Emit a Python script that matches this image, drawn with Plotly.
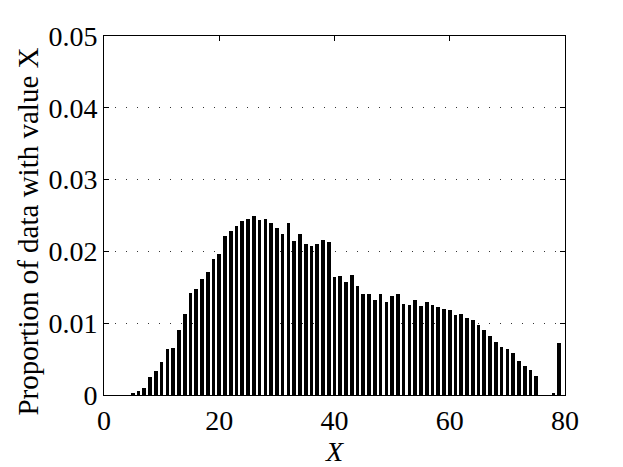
import plotly.graph_objects as go

x_values = list(range(0, 80))
proportions = [
    0, 0, 0, 0, 0,
    0.0002, 0.0005, 0.0010, 0.0025, 0.0033,
    0.0046, 0.0064, 0.0065, 0.0090, 0.0113,
    0.0142, 0.0148, 0.0161, 0.0172, 0.0190,
    0.0196, 0.0222, 0.0228, 0.0236, 0.0243,
    0.0245, 0.0249, 0.0244, 0.0245, 0.0240,
    0.0232, 0.0224, 0.0240, 0.0214, 0.0224,
    0.0211, 0.0207, 0.0210, 0.0216, 0.0213,
    0.0164, 0.0166, 0.0157, 0.0167, 0.0152,
    0.0140, 0.0140, 0.0133, 0.0140, 0.0130,
    0.0138, 0.0140, 0.0127, 0.0126, 0.0132,
    0.0124, 0.0129, 0.0126, 0.0123, 0.0120,
    0.0119, 0.0112, 0.0113, 0.0107, 0.0104,
    0.0097, 0.0091, 0.0082, 0.0074, 0.0067,
    0.0064, 0.0059, 0.0047, 0.0041, 0.0035,
    0.0026, 0, 0, 0.0002, 0.0073,
]
x_ticks = [0, 20, 40, 60, 80]
y_ticks = [0, 0.01, 0.02, 0.03, 0.04, 0.05]
y_tick_labels = ["0", "0.01", "0.02", "0.03", "0.04", "0.05"]

font = "Times New Roman, Liberation Serif, serif"

fig = go.Figure()
fig.add_trace(
    go.Bar(x=x_values, y=proportions, width=0.64,
           marker=dict(color="black", line=dict(width=0)),
           showlegend=False)
)

fig.update_xaxes(
    range=[0, 80], tickvals=x_ticks, automargin=False,
    showline=True, linecolor="black", linewidth=1, mirror="ticks",
    ticks="inside", ticklen=5, tickcolor="black",
    showgrid=False, zeroline=False,
    tickfont=dict(family=font, size=28, color="black"),
    title=dict(text="<i>X</i>", font=dict(family=font, size=28, color="black"), standoff=0),
)
fig.update_yaxes(
    range=[0, 0.05], tickvals=y_ticks, ticktext=y_tick_labels, automargin=False,
    showline=True, linecolor="black", linewidth=1, mirror="ticks",
    ticks="inside", ticklen=5, tickcolor="black",
    showgrid=True, gridcolor="#333333", gridwidth=1, griddash="1px,10px",
    zeroline=False,
    tickfont=dict(family=font, size=28, color="black"),
)

# y label placed by hand, a bit below the plot centre as in the original
fig.add_annotation(
    text="Proportion of data with value X", textangle=-90,
    xref="paper", yref="paper", x=-0.165, y=0.455,
    xanchor="center", yanchor="middle", showarrow=False, borderpad=0,
    font=dict(family=font, size=29, color="black"),
)

# page body keeps an 8px margin, so the figure is 8px smaller and margins shifted
fig.update_layout(
    width=615, height=459,
    font=dict(family=font, color="black"),
    margin=dict(l=96, r=58, t=28, b=72),
    plot_bgcolor="white", paper_bgcolor="white",
    bargap=0,
)

fig.write_html("out.html")
